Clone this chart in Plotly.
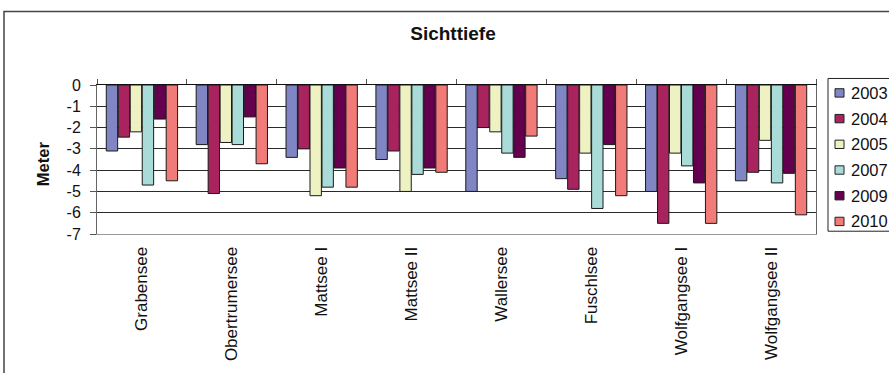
import plotly.graph_objects as go

# --- data -------------------------------------------------------------
lakes = ["Grabensee", "Obertrumersee", "Mattsee I", "Mattsee II",
         "Wallersee", "Fuschlsee", "Wolfgangsee I", "Wolfgangsee II"]
years = ["2003", "2004", "2005", "2007", "2009", "2010"]

v2003 = [-3.1, -2.8, -3.4, -3.5, -5.0, -4.4, -5.0, -4.5]
v2004 = [-2.45, -5.1, -3.0, -3.1, -2.0, -4.9, -6.5, -4.1]
v2005 = [-2.2, -2.7, -5.2, -5.0, -2.2, -3.2, -3.2, -2.6]
v2007 = [-4.7, -2.8, -4.8, -4.2, -3.2, -5.8, -3.8, -4.6]
v2009 = [-1.6, -1.5, -3.9, -3.9, -3.4, -2.8, -4.6, -4.15]
v2010 = [-4.5, -3.7, -4.8, -4.1, -2.4, -5.2, -6.5, -6.1]

y_ticks = [0, -1, -2, -3, -4, -5, -6, -7]
y_tick_text = ["0", "-1", "-2", "-3", "-4", "-5", "-6", "-7"]

series = [v2003, v2004, v2005, v2007, v2009, v2010]
colors = ["#7f86c3", "#a9235f", "#eef2c3", "#a9dcd8", "#65004e", "#f07b78"]

# --- geometry (pixels) ------------------------------------------------
W, H = 889, 373
L, R, T, B = 97, 816, 85, 245
FONT = "Liberation Sans, Arial, sans-serif"


def px_x(x):
    return (x - L) / (R - L)


def px_y(y):
    return (B - y) / (B - T)


fig = go.Figure()
for year, vals, col in zip(years, series, colors):
    fig.add_trace(go.Bar(
        x=lakes, y=vals, name=year,
        marker=dict(color=col, line=dict(color="#1a1a1a", width=1)),
        showlegend=False,
    ))

# invisible helper so the top category-boundary axis is drawn
fig.add_trace(go.Scatter(
    x=[-0.5, len(lakes) - 0.5], y=[0, 0], xaxis="x2", mode="markers",
    marker=dict(opacity=0), hoverinfo="skip", showlegend=False,
))

shapes = []
annotations = []

# outer chart frame
shapes.append(dict(type="rect", xref="paper", yref="paper",
                   x0=px_x(4), x1=px_x(W + 40), y0=px_y(H + 40), y1=px_y(6),
                   line=dict(color="#444", width=1.5), fillcolor="rgba(0,0,0,0)",
                   layer="below"))

# legend box, swatches and labels
shapes.append(dict(type="rect", xref="paper", yref="paper",
                   x0=px_x(828), x1=px_x(W + 40), y0=px_y(242), y1=px_y(78),
                   line=dict(color="#222", width=1), fillcolor="white"))
row0, step = 93.5, 27.6
for i, (year, col) in enumerate(zip(years, colors)):
    cy = row0 + i * step
    shapes.append(dict(type="rect", xref="paper", yref="paper",
                       x0=px_x(835), x1=px_x(844), y0=px_y(cy + 4.5), y1=px_y(cy - 4.5),
                       line=dict(color="#222", width=1), fillcolor=col))
    annotations.append(dict(text=year, xref="paper", yref="paper",
                            x=px_x(849), y=px_y(cy), xanchor="left", yanchor="middle",
                            showarrow=False, font=dict(family=FONT, size=16.5, color="#111")))

# y-axis title
annotations.append(dict(text="<b>Meter</b>", xref="paper", yref="paper",
                        x=px_x(43), y=px_y(170), textangle=-90,
                        xanchor="center", yanchor="middle", showarrow=False,
                        font=dict(family=FONT, size=16.5, color="#111")))

fig.update_layout(
    width=W, height=H,
    margin=dict(l=L, r=W - R, t=T, b=H - B),
    paper_bgcolor="white", plot_bgcolor="white",
    barmode="group", bargap=0.2, bargroupgap=0.05,
    title=dict(text="<b>Sichttiefe</b>", xref="container", yref="container",
               x=453 / W, y=1 - 33 / H, xanchor="center", yanchor="middle",
               font=dict(family=FONT, size=19, color="#111")),
    font=dict(family=FONT, color="#111"),
    xaxis=dict(type="category", categoryorder="array", categoryarray=lakes,
               range=[-0.5, len(lakes) - 0.5],
               tickangle=-90, ticks="", ticklabelstandoff=5,
               tickfont=dict(family=FONT, size=17, color="#111"),
               showline=True, linecolor="#999", linewidth=1,
               showgrid=False, zeroline=False),
    xaxis2=dict(overlaying="x", anchor="y", side="top",
                range=[-0.5, len(lakes) - 0.5],
                tickvals=[i - 0.5 for i in range(len(lakes) + 1)],
                ticks="outside", ticklen=5, tickcolor="#555", tickwidth=1,
                showticklabels=False, showgrid=False, zeroline=False,
                showline=True, linecolor="#111", linewidth=1),
    yaxis=dict(range=[-7, 0], tickvals=y_ticks, ticktext=y_tick_text,
               ticks="outside", ticklen=6, tickcolor="#555",
               ticklabelstandoff=6,
               tickfont=dict(family=FONT, size=16, color="#111"),
               showgrid=True, gridcolor="#2a2a2a", gridwidth=1,
               showline=True, linecolor="#666", linewidth=1, mirror=True,
               zeroline=False),
    shapes=shapes,
    annotations=annotations,
    showlegend=False,
)

fig.write_html("out.html")
